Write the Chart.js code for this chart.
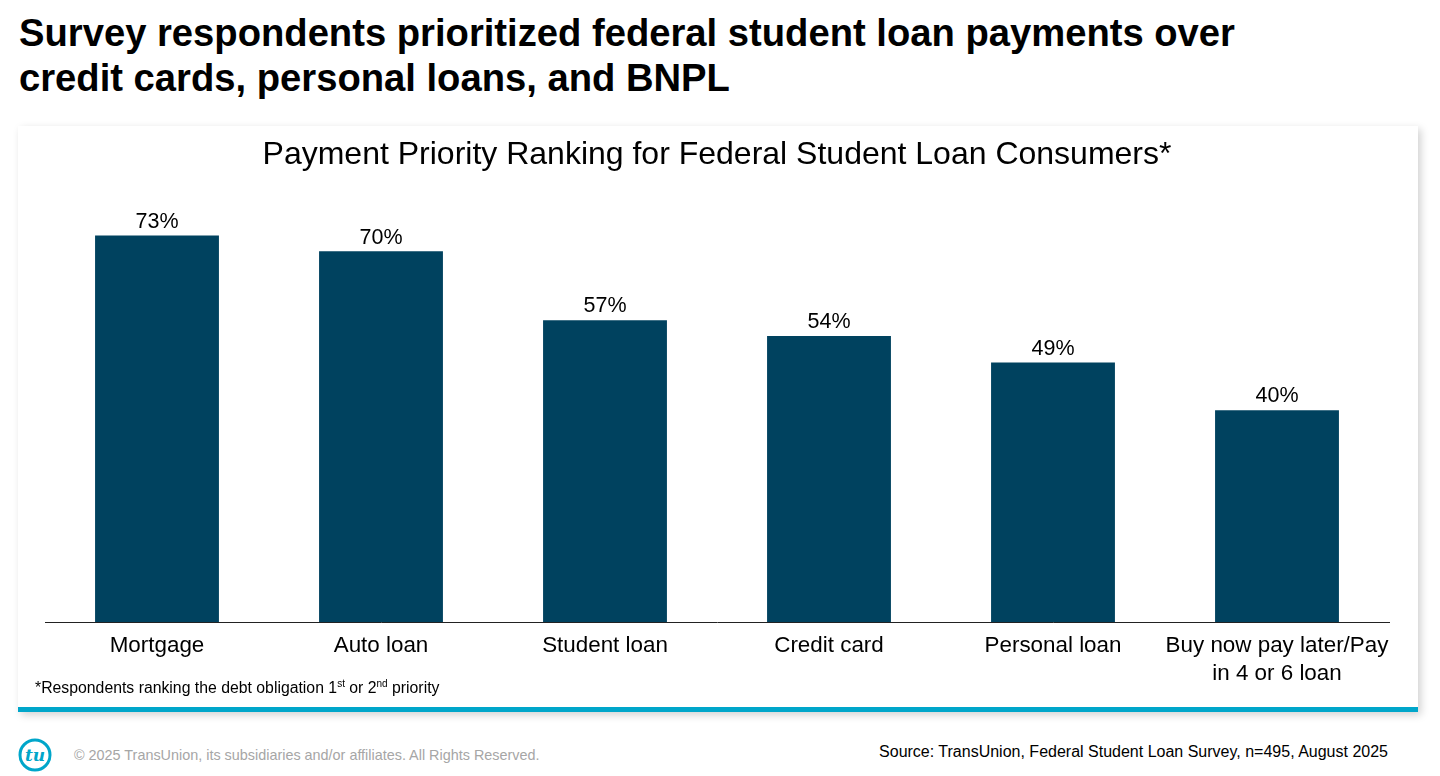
<!DOCTYPE html>
<html>
<head>
<meta charset="utf-8">
<script src="https://cdn.jsdelivr.net/npm/chart.js@4.4.1/dist/chart.umd.min.js"></script>
<style>
  html, body { margin: 0; padding: 0; background: #fff; }
  body { width: 1440px; height: 776px; position: relative; overflow: hidden; font-family: "Liberation Sans", Arial, sans-serif; }
  #headline { position: absolute; left: 19px; top: 10px; margin: 0; font-size: 38.2px; line-height: 45px; font-weight: bold; color: #000; }
  #card { position: absolute; left: 18px; top: 126px; width: 1400px; height: 581px; background: #fff;
          border-bottom: 5px solid #00a6ca; box-shadow: 3px 3px 8px rgba(0,0,0,0.18); }
  #chartWrap { position: absolute; left: 0; top: 0; width: 1400px; height: 581px; }
  #note { position: absolute; left: 17px; top: 552px; font-size: 15.8px; color: #000; }
  #note sup { font-size: 10px; }
  #logo { position: absolute; left: 18px; top: 738px; }
  #copy { position: absolute; left: 74px; top: 747px; font-size: 14.4px; color: #a6a6a6; }
  #source { position: absolute; right: 52px; top: 743px; font-size: 16px; color: #000; }
</style>
</head>
<body>
<h1 id="headline">Survey respondents prioritized federal student loan payments over<br>credit cards, personal loans, and BNPL</h1>

<div id="card">
  <div id="chartWrap"><canvas id="myChart"></canvas></div>
  <div id="note">*Respondents ranking the debt obligation 1<sup>st</sup> or 2<sup>nd</sup> priority</div>
</div>

<svg id="logo" width="34" height="34" viewBox="0 0 34 34">
  <circle cx="17" cy="17" r="15" fill="none" stroke="#00a6ca" stroke-width="3"/>
  <text x="17" y="23" text-anchor="middle" font-family="DejaVu Serif, serif" font-style="italic" font-weight="bold" font-size="17" fill="#00a6ca">tu</text>
</svg>
<div id="copy">© 2025 TransUnion, its subsidiaries and/or affiliates. All Rights Reserved.</div>
<div id="source">Source: TransUnion, Federal Student Loan Survey, n=495, August 2025</div>

<script>
const categories = [
	'Mortgage',
	'Auto loan',
	'Student loan',
	'Credit card',
	'Personal loan',
	['Buy now pay later/Pay', 'in 4 or 6 loan']
];
const shares = [73, 70, 57, 54, 49, 40];
const yMax = 80;

// labels above bars
const barLabels = {
	id: 'barLabels',
	afterDatasetsDraw(chart) {
		const ctx = chart.ctx;
		const meta = chart.getDatasetMeta(0);
		ctx.save();
		ctx.font = '21.5px "Liberation Sans", Arial, sans-serif';
		ctx.fillStyle = '#000';
		ctx.textAlign = 'center';
		ctx.textBaseline = 'bottom';
		meta.data.forEach((bar, i) => {
			ctx.fillText(shares[i] + '%', bar.x, bar.y - 3);
		});
		ctx.restore();
	}
};

const ctx = document.getElementById('myChart');
const myChart = new Chart(ctx, {
	type: 'bar',
	data: {
		labels: categories,
		datasets: [{
			data: shares,
			backgroundColor: '#00425f',
			borderWidth: 0,
			categoryPercentage: 1,
			barPercentage: 0.553
		}]
	},
	options: {
		responsive: true,
		maintainAspectRatio: false,
		animation: false,
		layout: { padding: { left: 27, right: 29, top: 0, bottom: 0 } },
		plugins: {
			legend: { display: false },
			tooltip: { enabled: false },
			title: {
				display: true,
				text: 'Payment Priority Ranking for Federal Student Loan Consumers*',
				color: '#000',
				font: { family: '"Liberation Sans", Arial, sans-serif', size: 32, weight: 'normal', lineHeight: 1.2 },
				padding: { top: 10, bottom: 24 }
			}
		},
		scales: {
			x: {
				grid: { display: false, drawTicks: false },
				border: { display: true, color: '#222', width: 1 },
				ticks: {
					color: '#000',
					padding: 10,
					maxRotation: 0,
					autoSkip: false,
					font: { family: '"Liberation Sans", Arial, sans-serif', size: 22.4, lineHeight: 1.25 }
				},
				afterFit(scale) { scale.height = 85; }
			},
			y: {
				display: false,
				min: 0,
				max: yMax
			}
		}
	},
	plugins: [barLabels]
});
</script>
</body>
</html>
